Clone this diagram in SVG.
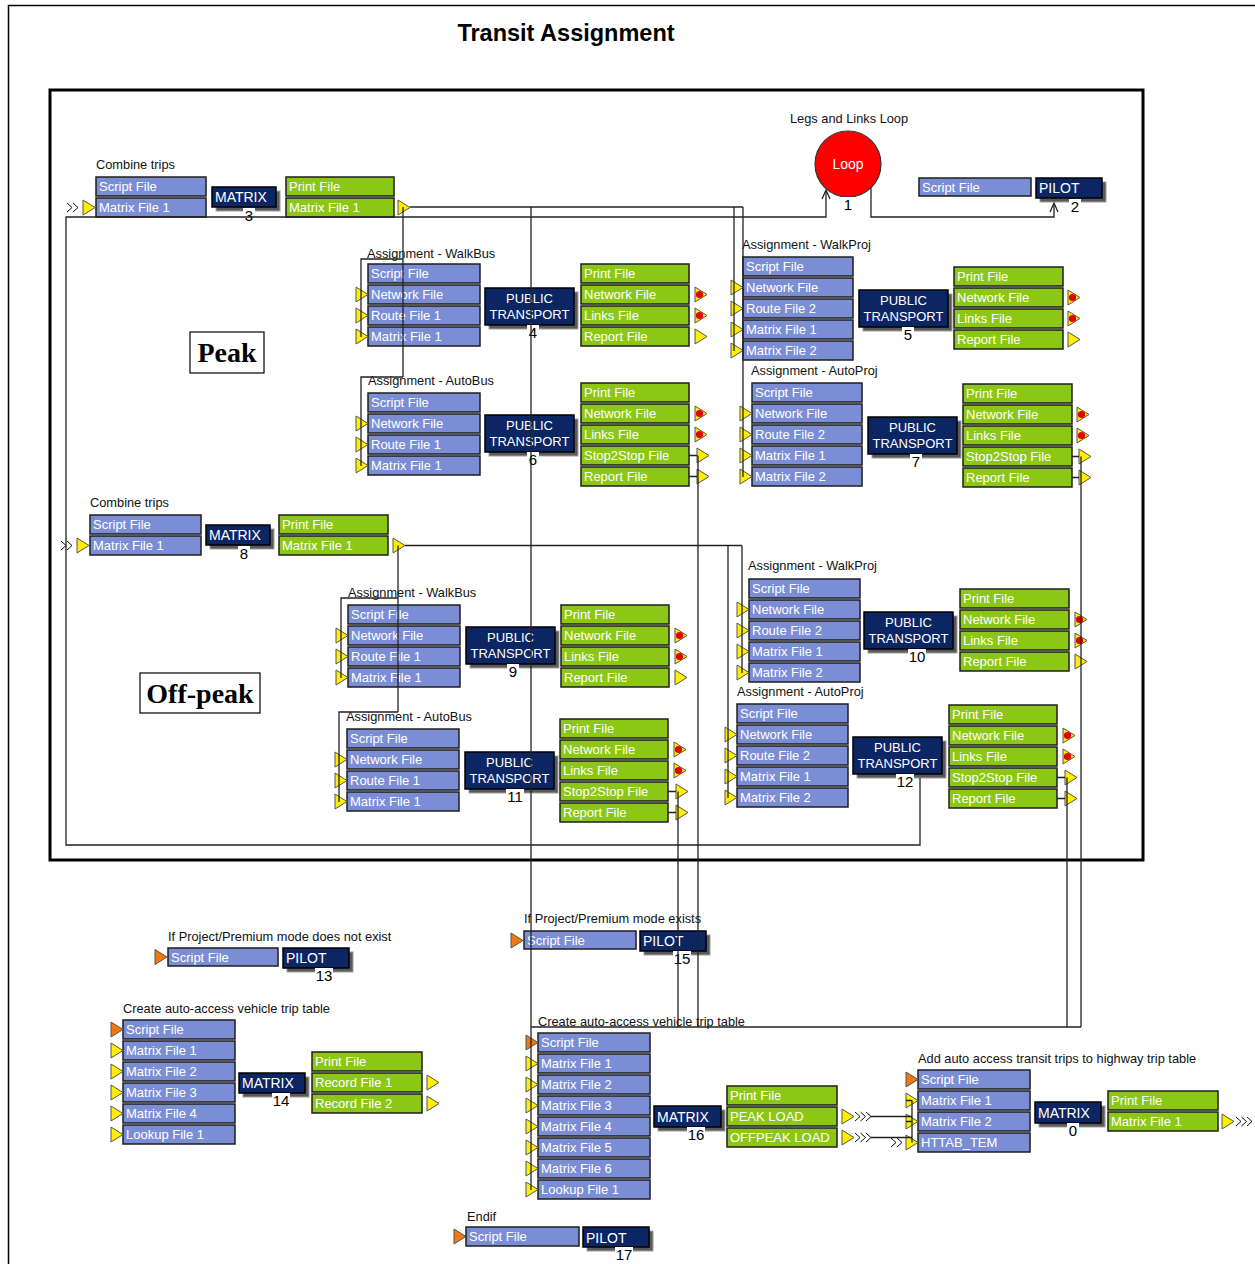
<svg xmlns="http://www.w3.org/2000/svg" width="1255" height="1264" viewBox="0 0 1255 1264">
<style>
  .fi{fill:#7b8dd5;stroke:#1e1e1e;stroke-width:1.5}
  .fo{fill:#8cc716;stroke:#1e1e1e;stroke-width:1.5}
  .ft{fill:#fff;font:13px "Liberation Sans",Arial,sans-serif}
  .pr{fill:#0c2563;stroke:#000;stroke-width:1.5}
  .sh{fill:#5a5a5a;stroke:#a0a0a0;stroke-width:1}
  .pt{fill:#fff;font:13px "Liberation Sans",Arial,sans-serif;text-anchor:middle}
  .pl{fill:#fff;font:14px "Liberation Sans",Arial,sans-serif}
  .nb{fill:#fff}
  .nt{fill:#000;font:15px "Liberation Sans",Arial,sans-serif;text-anchor:middle}
  .lb{fill:#111;font:12.8px "Liberation Sans",Arial,sans-serif}
  .ln{fill:none;stroke:#222;stroke-width:1.3}
  .big{fill:#000;font:bold 28px "Liberation Serif","Times New Roman",serif;text-anchor:middle}
</style>
<defs>
  <polygon id="ty" points="0,-7.5 12,0 0,7.5" fill="#ffee00" stroke="#555" stroke-width="1"/>
  <polygon id="to" points="0,-7.5 12,0 0,7.5" fill="#f07810" stroke="#555" stroke-width="1"/>
  <g id="tr"><polygon points="0,-7.5 12,0 0,7.5" fill="#ffee00" stroke="#555" stroke-width="1"/><circle cx="4.5" cy="0" r="3.6" fill="#e00000"/></g>
  <path id="ch2" d="M0,-4.5 L5,0 L0,4.5 M6,-4.5 L11,0 L6,4.5" fill="none" stroke="#111" stroke-width="1"/>
  <path id="ch3" d="M0,-4.5 L5,0 L0,4.5 M5.5,-4.5 L10.5,0 L5.5,4.5 M11,-4.5 L16,0 L11,4.5" fill="none" stroke="#111" stroke-width="1"/>
</defs>
<rect width="1255" height="1264" fill="#fff"/>
<path d="M8.5,1264 V5.5 H1255" fill="none" stroke="#000" stroke-width="1.5"/>
<text x="566" y="41" style="font:bold 23.5px 'Liberation Sans',Arial,sans-serif;text-anchor:middle">Transit Assignment</text>

<!-- loop group frame and period labels -->
<rect x="50" y="90" width="1093" height="770" fill="none" stroke="#000" stroke-width="3"/>
<g id="peak-label"><rect x="190" y="332" width="74" height="41" fill="#fff" stroke="#000" stroke-width="1.2"/><text class="big" x="227" y="362">Peak</text></g>
<g id="offpeak-label"><rect x="140" y="673" width="120" height="40" fill="#fff" stroke="#000" stroke-width="1.2"/><text class="big" x="200" y="703">Off-peak</text></g>

<!-- 3: combine trips (peak) -->
<g id="n3">
  <text class="lb" x="96" y="169">Combine trips</text>
  <use href="#ch2" x="67" y="207.5"/><use href="#ty" x="83" y="207.5"/>
  <rect class="fi" x="96" y="177" width="110" height="19"/><text class="ft" x="99" y="191">Script File</text>
  <rect class="fi" x="96" y="198" width="110" height="19"/><text class="ft" x="99" y="212">Matrix File 1</text>
  <rect class="sh" x="216" y="191" width="64" height="20"/><rect class="pr" x="212" y="187" width="64" height="20"/><text class="pl" x="215" y="202">MATRIX</text>
  <rect class="nb" x="243" y="208" width="12" height="14"/><text class="nt" x="249" y="221">3</text>
  <rect class="fo" x="286" y="177" width="108" height="19"/><text class="ft" x="289" y="191">Print File</text>
  <rect class="fo" x="286" y="198" width="108" height="19"/><text class="ft" x="289" y="212">Matrix File 1</text>
  <use href="#ty" x="398" y="207.5"/>
</g>

<!-- 1: loop -->
<g id="n1">
  <text class="lb" x="790" y="123">Legs and Links Loop</text>
  <circle cx="848" cy="164" r="33" fill="#ff0000" stroke="#333" stroke-width="1.2"/>
  <text x="848" y="169" style="fill:#fff;font:14px 'Liberation Sans',Arial,sans-serif;text-anchor:middle">Loop</text>
  <rect class="nb" x="842" y="197" width="12" height="14"/><text class="nt" x="848" y="210">1</text>
</g>

<!-- 2: pilot -->
<g id="n2">
  <rect class="fi" x="919" y="178" width="112" height="18"/><text class="ft" x="922" y="192">Script File</text>
  <rect class="sh" x="1040" y="182" width="66" height="20"/><rect class="pr" x="1036" y="178" width="66" height="20"/><text class="pl" x="1039" y="193">PILOT</text>
  <rect class="nb" x="1069" y="199" width="12" height="14"/><text class="nt" x="1075" y="212">2</text>
</g>

<!-- 4: walk bus (peak) -->
<g id="n4">
  <text class="lb" x="367" y="258">Assignment - WalkBus</text>
  <rect class="fi" x="368" y="264" width="112" height="19"/><text class="ft" x="371" y="278">Script File</text>
  <rect class="fi" x="368" y="285" width="112" height="19"/><text class="ft" x="371" y="299">Network File</text>
  <rect class="fi" x="368" y="306" width="112" height="19"/><text class="ft" x="371" y="320">Route File 1</text>
  <rect class="fi" x="368" y="327" width="112" height="19"/><text class="ft" x="371" y="341">Matrix File 1</text>
  <use href="#ty" x="356" y="294.5"/><use href="#ty" x="356" y="315.5"/><use href="#ty" x="356" y="336.5"/>
  <rect class="sh" x="489" y="292" width="89" height="37"/><rect class="pr" x="485" y="288" width="89" height="37"/>
  <text class="pt" x="529.5" y="303">PUBLIC</text><text class="pt" x="529.5" y="319">TRANSPORT</text>
  <rect class="nb" x="527" y="325" width="12" height="14"/><text class="nt" x="533" y="338">4</text>
  <rect class="fo" x="581" y="264" width="108" height="19"/><text class="ft" x="584" y="278">Print File</text>
  <rect class="fo" x="581" y="285" width="108" height="19"/><text class="ft" x="584" y="299">Network File</text>
  <rect class="fo" x="581" y="306" width="108" height="19"/><text class="ft" x="584" y="320">Links File</text>
  <rect class="fo" x="581" y="327" width="108" height="19"/><text class="ft" x="584" y="341">Report File</text>
  <use href="#tr" x="695" y="294.5"/><use href="#tr" x="695" y="315.5"/><use href="#ty" x="695" y="336.5"/>
</g>

<!-- 6: auto bus (peak) -->
<g id="n6">
  <text class="lb" x="368" y="385">Assignment - AutoBus</text>
  <rect class="fi" x="368" y="393" width="112" height="19"/><text class="ft" x="371" y="407">Script File</text>
  <rect class="fi" x="368" y="414" width="112" height="19"/><text class="ft" x="371" y="428">Network File</text>
  <rect class="fi" x="368" y="435" width="112" height="19"/><text class="ft" x="371" y="449">Route File 1</text>
  <rect class="fi" x="368" y="456" width="112" height="19"/><text class="ft" x="371" y="470">Matrix File 1</text>
  <use href="#ty" x="356" y="423.5"/><use href="#ty" x="356" y="444.5"/><use href="#ty" x="356" y="465.5"/>
  <rect class="sh" x="489" y="419" width="89" height="37"/><rect class="pr" x="485" y="415" width="89" height="37"/>
  <text class="pt" x="529.5" y="430">PUBLIC</text><text class="pt" x="529.5" y="446">TRANSPORT</text>
  <rect class="nb" x="527" y="452" width="12" height="14"/><text class="nt" x="533" y="465">6</text>
  <rect class="fo" x="581" y="383" width="108" height="19"/><text class="ft" x="584" y="397">Print File</text>
  <rect class="fo" x="581" y="404" width="108" height="19"/><text class="ft" x="584" y="418">Network File</text>
  <rect class="fo" x="581" y="425" width="108" height="19"/><text class="ft" x="584" y="439">Links File</text>
  <rect class="fo" x="581" y="446" width="108" height="19"/><text class="ft" x="584" y="460">Stop2Stop File</text>
  <rect class="fo" x="581" y="467" width="108" height="19"/><text class="ft" x="584" y="481">Report File</text>
  <use href="#tr" x="695" y="413.5"/><use href="#tr" x="695" y="434.5"/><use href="#ty" x="697" y="455.5"/><use href="#ty" x="697" y="476.5"/>
</g>

<!-- 5: walk project (peak) -->
<g id="n5">
  <text class="lb" x="742" y="249">Assignment - WalkProj</text>
  <rect class="fi" x="743" y="257" width="110" height="19"/><text class="ft" x="746" y="271">Script File</text>
  <rect class="fi" x="743" y="278" width="110" height="19"/><text class="ft" x="746" y="292">Network File</text>
  <rect class="fi" x="743" y="299" width="110" height="19"/><text class="ft" x="746" y="313">Route File 2</text>
  <rect class="fi" x="743" y="320" width="110" height="19"/><text class="ft" x="746" y="334">Matrix File 1</text>
  <rect class="fi" x="743" y="341" width="110" height="19"/><text class="ft" x="746" y="355">Matrix File 2</text>
  <use href="#ty" x="731" y="287.5"/><use href="#ty" x="731" y="308.5"/><use href="#ty" x="731" y="329.5"/><use href="#ty" x="731" y="350.5"/>
  <rect class="sh" x="863" y="294" width="89" height="37"/><rect class="pr" x="859" y="290" width="89" height="37"/>
  <text class="pt" x="903.5" y="305">PUBLIC</text><text class="pt" x="903.5" y="321">TRANSPORT</text>
  <rect class="nb" x="902" y="327" width="12" height="14"/><text class="nt" x="908" y="340">5</text>
  <rect class="fo" x="954" y="267" width="109" height="19"/><text class="ft" x="957" y="281">Print File</text>
  <rect class="fo" x="954" y="288" width="109" height="19"/><text class="ft" x="957" y="302">Network File</text>
  <rect class="fo" x="954" y="309" width="109" height="19"/><text class="ft" x="957" y="323">Links File</text>
  <rect class="fo" x="954" y="330" width="109" height="19"/><text class="ft" x="957" y="344">Report File</text>
  <use href="#tr" x="1068" y="297.5"/><use href="#tr" x="1068" y="318.5"/><use href="#ty" x="1068" y="339.5"/>
</g>

<!-- 7: auto project (peak) -->
<g id="n7">
  <text class="lb" x="751" y="375">Assignment - AutoProj</text>
  <rect class="fi" x="752" y="383" width="110" height="19"/><text class="ft" x="755" y="397">Script File</text>
  <rect class="fi" x="752" y="404" width="110" height="19"/><text class="ft" x="755" y="418">Network File</text>
  <rect class="fi" x="752" y="425" width="110" height="19"/><text class="ft" x="755" y="439">Route File 2</text>
  <rect class="fi" x="752" y="446" width="110" height="19"/><text class="ft" x="755" y="460">Matrix File 1</text>
  <rect class="fi" x="752" y="467" width="110" height="19"/><text class="ft" x="755" y="481">Matrix File 2</text>
  <use href="#ty" x="740" y="413.5"/><use href="#ty" x="740" y="434.5"/><use href="#ty" x="740" y="455.5"/><use href="#ty" x="740" y="476.5"/>
  <rect class="sh" x="872" y="421" width="89" height="37"/><rect class="pr" x="868" y="417" width="89" height="37"/>
  <text class="pt" x="912.5" y="432">PUBLIC</text><text class="pt" x="912.5" y="448">TRANSPORT</text>
  <rect class="nb" x="910" y="454" width="12" height="14"/><text class="nt" x="916" y="467">7</text>
  <rect class="fo" x="963" y="384" width="109" height="19"/><text class="ft" x="966" y="398">Print File</text>
  <rect class="fo" x="963" y="405" width="109" height="19"/><text class="ft" x="966" y="419">Network File</text>
  <rect class="fo" x="963" y="426" width="109" height="19"/><text class="ft" x="966" y="440">Links File</text>
  <rect class="fo" x="963" y="447" width="109" height="19"/><text class="ft" x="966" y="461">Stop2Stop File</text>
  <rect class="fo" x="963" y="468" width="109" height="19"/><text class="ft" x="966" y="482">Report File</text>
  <use href="#tr" x="1077" y="414.5"/><use href="#tr" x="1077" y="435.5"/><use href="#ty" x="1079" y="456.5"/><use href="#ty" x="1079" y="477.5"/>
</g>

<!-- 8: combine trips (off-peak) -->
<g id="n8">
  <text class="lb" x="90" y="507">Combine trips</text>
  <use href="#ch2" x="61" y="545.5"/><use href="#ty" x="77" y="545.5"/>
  <rect class="fi" x="90" y="515" width="111" height="19"/><text class="ft" x="93" y="529">Script File</text>
  <rect class="fi" x="90" y="536" width="111" height="19"/><text class="ft" x="93" y="550">Matrix File 1</text>
  <rect class="sh" x="210" y="529" width="64" height="20"/><rect class="pr" x="206" y="525" width="64" height="20"/><text class="pl" x="209" y="540">MATRIX</text>
  <rect class="nb" x="238" y="546" width="12" height="14"/><text class="nt" x="244" y="559">8</text>
  <rect class="fo" x="279" y="515" width="109" height="19"/><text class="ft" x="282" y="529">Print File</text>
  <rect class="fo" x="279" y="536" width="109" height="19"/><text class="ft" x="282" y="550">Matrix File 1</text>
  <use href="#ty" x="393" y="545.5"/>
</g>

<!-- 9: walk bus (off-peak) -->
<g id="n9">
  <text class="lb" x="348" y="597">Assignment - WalkBus</text>
  <rect class="fi" x="348" y="605" width="112" height="19"/><text class="ft" x="351" y="619">Script File</text>
  <rect class="fi" x="348" y="626" width="112" height="19"/><text class="ft" x="351" y="640">Network File</text>
  <rect class="fi" x="348" y="647" width="112" height="19"/><text class="ft" x="351" y="661">Route File 1</text>
  <rect class="fi" x="348" y="668" width="112" height="19"/><text class="ft" x="351" y="682">Matrix File 1</text>
  <use href="#ty" x="336" y="635.5"/><use href="#ty" x="336" y="656.5"/><use href="#ty" x="336" y="677.5"/>
  <rect class="sh" x="470" y="631" width="89" height="37"/><rect class="pr" x="466" y="627" width="89" height="37"/>
  <text class="pt" x="510.5" y="642">PUBLIC</text><text class="pt" x="510.5" y="658">TRANSPORT</text>
  <rect class="nb" x="507" y="664" width="12" height="14"/><text class="nt" x="513" y="677">9</text>
  <rect class="fo" x="561" y="605" width="108" height="19"/><text class="ft" x="564" y="619">Print File</text>
  <rect class="fo" x="561" y="626" width="108" height="19"/><text class="ft" x="564" y="640">Network File</text>
  <rect class="fo" x="561" y="647" width="108" height="19"/><text class="ft" x="564" y="661">Links File</text>
  <rect class="fo" x="561" y="668" width="108" height="19"/><text class="ft" x="564" y="682">Report File</text>
  <use href="#tr" x="675" y="635.5"/><use href="#tr" x="675" y="656.5"/><use href="#ty" x="675" y="677.5"/>
</g>

<!-- 11: auto bus (off-peak) -->
<g id="n11">
  <text class="lb" x="346" y="721">Assignment - AutoBus</text>
  <rect class="fi" x="347" y="729" width="112" height="19"/><text class="ft" x="350" y="743">Script File</text>
  <rect class="fi" x="347" y="750" width="112" height="19"/><text class="ft" x="350" y="764">Network File</text>
  <rect class="fi" x="347" y="771" width="112" height="19"/><text class="ft" x="350" y="785">Route File 1</text>
  <rect class="fi" x="347" y="792" width="112" height="19"/><text class="ft" x="350" y="806">Matrix File 1</text>
  <use href="#ty" x="335" y="759.5"/><use href="#ty" x="335" y="780.5"/><use href="#ty" x="335" y="801.5"/>
  <rect class="sh" x="469" y="756" width="89" height="37"/><rect class="pr" x="465" y="752" width="89" height="37"/>
  <text class="pt" x="509.5" y="767">PUBLIC</text><text class="pt" x="509.5" y="783">TRANSPORT</text>
  <rect class="nb" x="506" y="789" width="18" height="14"/><text class="nt" x="515" y="802">11</text>
  <rect class="fo" x="560" y="719" width="108" height="19"/><text class="ft" x="563" y="733">Print File</text>
  <rect class="fo" x="560" y="740" width="108" height="19"/><text class="ft" x="563" y="754">Network File</text>
  <rect class="fo" x="560" y="761" width="108" height="19"/><text class="ft" x="563" y="775">Links File</text>
  <rect class="fo" x="560" y="782" width="108" height="19"/><text class="ft" x="563" y="796">Stop2Stop File</text>
  <rect class="fo" x="560" y="803" width="108" height="19"/><text class="ft" x="563" y="817">Report File</text>
  <use href="#tr" x="674" y="749.5"/><use href="#tr" x="674" y="770.5"/><use href="#ty" x="676" y="791.5"/><use href="#ty" x="676" y="812.5"/>
</g>

<!-- 10: walk project (off-peak) -->
<g id="n10">
  <text class="lb" x="748" y="570">Assignment - WalkProj</text>
  <rect class="fi" x="749" y="579" width="111" height="19"/><text class="ft" x="752" y="593">Script File</text>
  <rect class="fi" x="749" y="600" width="111" height="19"/><text class="ft" x="752" y="614">Network File</text>
  <rect class="fi" x="749" y="621" width="111" height="19"/><text class="ft" x="752" y="635">Route File 2</text>
  <rect class="fi" x="749" y="642" width="111" height="19"/><text class="ft" x="752" y="656">Matrix File 1</text>
  <rect class="fi" x="749" y="663" width="111" height="19"/><text class="ft" x="752" y="677">Matrix File 2</text>
  <use href="#ty" x="737" y="609.5"/><use href="#ty" x="737" y="630.5"/><use href="#ty" x="737" y="651.5"/><use href="#ty" x="737" y="672.5"/>
  <rect class="sh" x="868" y="616" width="89" height="37"/><rect class="pr" x="864" y="612" width="89" height="37"/>
  <text class="pt" x="908.5" y="627">PUBLIC</text><text class="pt" x="908.5" y="643">TRANSPORT</text>
  <rect class="nb" x="908" y="649" width="18" height="14"/><text class="nt" x="917" y="662">10</text>
  <rect class="fo" x="960" y="589" width="109" height="19"/><text class="ft" x="963" y="603">Print File</text>
  <rect class="fo" x="960" y="610" width="109" height="19"/><text class="ft" x="963" y="624">Network File</text>
  <rect class="fo" x="960" y="631" width="109" height="19"/><text class="ft" x="963" y="645">Links File</text>
  <rect class="fo" x="960" y="652" width="109" height="19"/><text class="ft" x="963" y="666">Report File</text>
  <use href="#tr" x="1075" y="619.5"/><use href="#tr" x="1075" y="640.5"/><use href="#ty" x="1075" y="661.5"/>
</g>

<!-- 12: auto project (off-peak) -->
<g id="n12">
  <text class="lb" x="737" y="696">Assignment - AutoProj</text>
  <rect class="fi" x="737" y="704" width="111" height="19"/><text class="ft" x="740" y="718">Script File</text>
  <rect class="fi" x="737" y="725" width="111" height="19"/><text class="ft" x="740" y="739">Network File</text>
  <rect class="fi" x="737" y="746" width="111" height="19"/><text class="ft" x="740" y="760">Route File 2</text>
  <rect class="fi" x="737" y="767" width="111" height="19"/><text class="ft" x="740" y="781">Matrix File 1</text>
  <rect class="fi" x="737" y="788" width="111" height="19"/><text class="ft" x="740" y="802">Matrix File 2</text>
  <use href="#ty" x="725" y="734.5"/><use href="#ty" x="725" y="755.5"/><use href="#ty" x="725" y="776.5"/><use href="#ty" x="725" y="797.5"/>
  <rect class="sh" x="857" y="741" width="89" height="37"/><rect class="pr" x="853" y="737" width="89" height="37"/>
  <text class="pt" x="897.5" y="752">PUBLIC</text><text class="pt" x="897.5" y="768">TRANSPORT</text>
  <rect class="nb" x="896" y="774" width="18" height="14"/><text class="nt" x="905" y="787">12</text>
  <rect class="fo" x="949" y="705" width="108" height="19"/><text class="ft" x="952" y="719">Print File</text>
  <rect class="fo" x="949" y="726" width="108" height="19"/><text class="ft" x="952" y="740">Network File</text>
  <rect class="fo" x="949" y="747" width="108" height="19"/><text class="ft" x="952" y="761">Links File</text>
  <rect class="fo" x="949" y="768" width="108" height="19"/><text class="ft" x="952" y="782">Stop2Stop File</text>
  <rect class="fo" x="949" y="789" width="108" height="19"/><text class="ft" x="952" y="803">Report File</text>
  <use href="#tr" x="1063" y="735.5"/><use href="#tr" x="1063" y="756.5"/><use href="#ty" x="1065" y="777.5"/><use href="#ty" x="1065" y="798.5"/>
</g>

<!-- 13: pilot, no project mode -->
<g id="n13">
  <text class="lb" x="168" y="941">If Project/Premium mode does not exist</text>
  <use href="#to" x="155" y="957"/>
  <rect class="fi" x="168" y="948" width="110" height="18"/><text class="ft" x="171" y="962">Script File</text>
  <rect class="sh" x="287" y="952" width="66" height="20"/><rect class="pr" x="283" y="948" width="66" height="20"/><text class="pl" x="286" y="963">PILOT</text>
  <rect class="nb" x="315" y="968" width="18" height="14"/><text class="nt" x="324" y="981">13</text>
</g>

<!-- 15: pilot, project mode -->
<g id="n15">
  <text class="lb" x="524" y="923">If Project/Premium mode exists</text>
  <use href="#to" x="511" y="940.5"/>
  <rect class="fi" x="524" y="931" width="112" height="18"/><text class="ft" x="527" y="945">Script File</text>
  <rect class="sh" x="644" y="935" width="66" height="20"/><rect class="pr" x="640" y="931" width="66" height="20"/><text class="pl" x="643" y="946">PILOT</text>
  <rect class="nb" x="673" y="951" width="18" height="14"/><text class="nt" x="682" y="964">15</text>
</g>

<!-- 14: auto-access vehicle trips (no project mode) -->
<g id="n14">
  <text class="lb" x="123" y="1013">Create auto-access vehicle trip table</text>
  <rect class="fi" x="123" y="1020" width="112" height="19"/><text class="ft" x="126" y="1034">Script File</text>
  <rect class="fi" x="123" y="1041" width="112" height="19"/><text class="ft" x="126" y="1055">Matrix File 1</text>
  <rect class="fi" x="123" y="1062" width="112" height="19"/><text class="ft" x="126" y="1076">Matrix File 2</text>
  <rect class="fi" x="123" y="1083" width="112" height="19"/><text class="ft" x="126" y="1097">Matrix File 3</text>
  <rect class="fi" x="123" y="1104" width="112" height="19"/><text class="ft" x="126" y="1118">Matrix File 4</text>
  <rect class="fi" x="123" y="1125" width="112" height="19"/><text class="ft" x="126" y="1139">Lookup File 1</text>
  <use href="#to" x="111" y="1029.5"/><use href="#ty" x="111" y="1050.5"/><use href="#ty" x="111" y="1071.5"/><use href="#ty" x="111" y="1092.5"/><use href="#ty" x="111" y="1113.5"/><use href="#ty" x="111" y="1134.5"/>
  <rect class="sh" x="243" y="1077" width="66" height="20"/><rect class="pr" x="239" y="1073" width="66" height="20"/><text class="pl" x="242" y="1088">MATRIX</text>
  <rect class="nb" x="272" y="1093" width="18" height="14"/><text class="nt" x="281" y="1106">14</text>
  <rect class="fo" x="312" y="1052" width="110" height="19"/><text class="ft" x="315" y="1066">Print File</text>
  <rect class="fo" x="312" y="1073" width="110" height="19"/><text class="ft" x="315" y="1087">Record File 1</text>
  <rect class="fo" x="312" y="1094" width="110" height="19"/><text class="ft" x="315" y="1108">Record File 2</text>
  <use href="#ty" x="427" y="1082.5"/><use href="#ty" x="427" y="1103.5"/>
</g>

<!-- 16: auto-access vehicle trips (project mode) -->
<g id="n16">
  <text class="lb" x="538" y="1026">Create auto-access vehicle trip table</text>
  <rect class="fi" x="538" y="1033" width="112" height="19"/><text class="ft" x="541" y="1047">Script File</text>
  <rect class="fi" x="538" y="1054" width="112" height="19"/><text class="ft" x="541" y="1068">Matrix File 1</text>
  <rect class="fi" x="538" y="1075" width="112" height="19"/><text class="ft" x="541" y="1089">Matrix File 2</text>
  <rect class="fi" x="538" y="1096" width="112" height="19"/><text class="ft" x="541" y="1110">Matrix File 3</text>
  <rect class="fi" x="538" y="1117" width="112" height="19"/><text class="ft" x="541" y="1131">Matrix File 4</text>
  <rect class="fi" x="538" y="1138" width="112" height="19"/><text class="ft" x="541" y="1152">Matrix File 5</text>
  <rect class="fi" x="538" y="1159" width="112" height="19"/><text class="ft" x="541" y="1173">Matrix File 6</text>
  <rect class="fi" x="538" y="1180" width="112" height="19"/><text class="ft" x="541" y="1194">Lookup File 1</text>
  <use href="#to" x="526" y="1042.5"/><use href="#ty" x="526" y="1063.5"/><use href="#ty" x="526" y="1084.5"/><use href="#ty" x="526" y="1105.5"/><use href="#ty" x="526" y="1126.5"/><use href="#ty" x="526" y="1147.5"/><use href="#ty" x="526" y="1168.5"/><use href="#ty" x="526" y="1189.5"/>
  <rect class="sh" x="658" y="1110" width="67" height="21"/><rect class="pr" x="654" y="1106" width="67" height="21"/><text class="pl" x="657" y="1122">MATRIX</text>
  <rect class="nb" x="687" y="1127" width="18" height="14"/><text class="nt" x="696" y="1140">16</text>
  <rect class="fo" x="727" y="1086" width="110" height="19"/><text class="ft" x="730" y="1100">Print File</text>
  <rect class="fo" x="727" y="1107" width="110" height="19"/><text class="ft" x="730" y="1121">PEAK LOAD</text>
  <rect class="fo" x="727" y="1128" width="110" height="19"/><text class="ft" x="730" y="1142">OFFPEAK LOAD</text>
  <use href="#ty" x="842" y="1116.5"/><use href="#ch3" x="855" y="1116.5"/>
  <use href="#ty" x="842" y="1137.5"/><use href="#ch3" x="855" y="1137.5"/>
</g>

<!-- 0: add auto-access transit trips to highway table -->
<g id="n0">
  <text class="lb" x="918" y="1063">Add auto access transit trips to highway trip table</text>
  <rect class="fi" x="918" y="1070" width="112" height="19"/><text class="ft" x="921" y="1084">Script File</text>
  <rect class="fi" x="918" y="1091" width="112" height="19"/><text class="ft" x="921" y="1105">Matrix File 1</text>
  <rect class="fi" x="918" y="1112" width="112" height="19"/><text class="ft" x="921" y="1126">Matrix File 2</text>
  <rect class="fi" x="918" y="1133" width="112" height="19"/><text class="ft" x="921" y="1147">HTTAB_TEM</text>
  <use href="#to" x="906" y="1079.5"/><use href="#ty" x="906" y="1100.5"/><use href="#ty" x="906" y="1121.5"/>
  <use href="#ch2" x="891" y="1142.5"/><use href="#ty" x="906" y="1142.5"/>
  <rect class="sh" x="1039" y="1106" width="66" height="21"/><rect class="pr" x="1035" y="1102" width="66" height="21"/><text class="pl" x="1038" y="1118">MATRIX</text>
  <rect class="nb" x="1067" y="1123" width="12" height="14"/><text class="nt" x="1073" y="1136">0</text>
  <rect class="fo" x="1108" y="1091" width="110" height="19"/><text class="ft" x="1111" y="1105">Print File</text>
  <rect class="fo" x="1108" y="1112" width="110" height="19"/><text class="ft" x="1111" y="1126">Matrix File 1</text>
  <use href="#ty" x="1222" y="1121.5"/><use href="#ch3" x="1236" y="1121.5"/>
</g>

<!-- 17: endif -->
<g id="n17">
  <text class="lb" x="467" y="1221">Endif</text>
  <use href="#to" x="454" y="1236.5"/>
  <rect class="fi" x="466" y="1227" width="113" height="19"/><text class="ft" x="469" y="1241">Script File</text>
  <rect class="sh" x="587" y="1231" width="66" height="20"/><rect class="pr" x="583" y="1227" width="66" height="20"/><text class="pl" x="586" y="1243">PILOT</text>
  <rect class="nb" x="615" y="1247" width="18" height="14"/><text class="nt" x="624" y="1260">17</text>
</g>

<!-- connectors -->
<g id="connectors" class="ln">
  <!-- peak trips to the four peak assignments and to the auto-access step -->
  <path d="M410,207 H743"/>
  <path d="M403,207 V377"/>
  <path d="M403,259 H361 V337"/>
  <path d="M403,377 H361 V466"/>
  <path d="M734,207 V351"/>
  <path d="M743,207 V477"/>
  <path d="M531,207 V1190"/>
  <!-- off-peak trips -->
  <path d="M405,545.5 H742"/>
  <path d="M398,545.5 V712"/>
  <path d="M398,598 H341 V678"/>
  <path d="M398,712 H339 V802"/>
  <path d="M742,545.5 V673"/>
  <path d="M728,545.5 V798"/>
  <!-- loop back-edge and loop exit -->
  <path d="M826,191 V217 H66 V845 H920 V778"/>
  <path d="M822,199 L826,190 L830,199"/>
  <path d="M871,188 V217 H1054 V204"/>
  <path d="M1050,212 L1054,203 L1058,212"/>
  <!-- stop-to-stop and report outputs down to the auto-access step -->
  <path d="M689,455.5 H697 M689,476.5 H697 M698,455.5 V1027"/>
  <path d="M668,791.5 H676 M668,812.5 H676 M678,791.5 V1027"/>
  <path d="M1072,456.5 H1079 M1072,477.5 H1079 M1081,456.5 V1027"/>
  <path d="M1057,777.5 H1065 M1057,798.5 H1065 M1067,777.5 V1027"/>
  <path d="M531,1027 H1081"/>
  <!-- peak / off-peak loads into the highway table step -->
  <path d="M871,1116.5 H912 M871,1137.5 H912 M912,1100.5 V1142.5 M906,1100.5 H912 M906,1121.5 H912"/>
</g>
</svg>
